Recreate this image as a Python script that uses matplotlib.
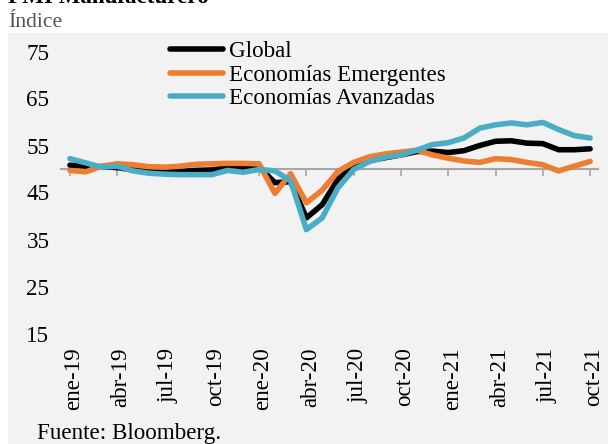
import matplotlib
matplotlib.use("Agg")
import matplotlib.pyplot as plt
from matplotlib.patches import Rectangle
from matplotlib.transforms import ScaledTranslation
import numpy as np

months = ["ene", "feb", "mar", "abr", "may", "jun", "jul", "ago", "sep", "oct", "nov", "dic"]
years = ["19", "20", "21"]
dates = [f"{m}-{y}" for y in years for m in months][:34]  # ene-19 .. oct-21

global_pmi = [50.8, 50.6, 50.5, 50.3, 49.8, 49.4, 49.3, 49.5, 49.7, 49.8, 50.3, 50.1,
              50.4, 47.1, 47.3, 39.6, 42.4, 47.8, 50.6, 51.8, 52.4, 53.0, 53.7, 53.8,
              53.5, 53.9, 55.0, 55.9, 56.0, 55.5, 55.4, 54.1, 54.1, 54.3]
emerging_pmi = [49.7, 49.4, 50.6, 51.1, 50.9, 50.5, 50.4, 50.6, 51.0, 51.1, 51.2, 51.2,
                51.1, 44.8, 49.0, 42.8, 45.5, 49.5, 51.4, 52.6, 53.2, 53.6, 54.0, 53.0,
                52.3, 51.7, 51.4, 52.2, 52.0, 51.4, 50.9, 49.6, 50.6, 51.6]
advanced_pmi = [52.2, 51.3, 50.4, 50.6, 49.6, 49.1, 48.9, 48.8, 48.8, 48.8, 49.7, 49.3,
                49.9, 49.6, 47.5, 37.1, 39.6, 46.0, 49.9, 51.6, 52.5, 53.0, 54.0, 55.2,
                55.6, 56.6, 58.7, 59.4, 59.8, 59.4, 59.9, 58.4, 57.1, 56.6]

labels = ["Global", "Economías Emergentes", "Economías Avanzadas"]
colors = ["#000000", "#ED7D31", "#4BACC6"]
yticks = [15, 25, 35, 45, 55, 65, 75]

plt.rcParams['font.family'] = ['Liberation Serif', 'DejaVu Serif']
FS = 16.6

W, H = 608, 444
fig = plt.figure(figsize=(W / 100, H / 100), dpi=100)
fig.patch.set_facecolor("white")

# gray background panel
fig.patches.append(Rectangle((8 / W, 0), 1 - 8 / W, 1 - 33 / H, transform=fig.transFigure,
                             facecolor="#F2F2F2", edgecolor="none", zorder=-10))

left, right = 60.5 / W, 598 / W
bottom, top = 1 - 333.5 / H, 1 - 51.5 / H
ax = fig.add_axes([left, bottom, right - left, top - bottom])
ax.set_facecolor("none")

x = np.arange(len(dates))
for data, lab, col in zip([global_pmi, emerging_pmi, advanced_pmi], labels, colors):
    ax.plot(x, data, color=col, lw=4.0, label=lab, solid_capstyle="round", solid_joinstyle="round")

ax.set_xlim(-0.6, 33.5)
ax.set_ylim(15, 75)
ax.set_yticks(yticks)
ax.set_yticklabels([str(v) for v in yticks], fontsize=FS)
ax.tick_params(axis="y", length=0, pad=8)
ax.set_xticks(x[::3])
ax.set_xticklabels(dates[::3], rotation=90, fontsize=FS)
ax.tick_params(axis="x", length=0, pad=10)
offset = ScaledTranslation(4 / 100, 0, fig.dpi_scale_trans)
for lbl in ax.get_xticklabels():
    lbl.set_transform(lbl.get_transform() + offset)
for s in ax.spines.values():
    s.set_visible(False)

# horizontal axis at 50 with tick marks
sec = ax.secondary_xaxis((50 - 15) / (75 - 15))
sec.set_xticks(x[::3])
sec.set_xticklabels([])
sec.tick_params(direction="in", length=5, width=1.2, color="#A6A6A6")
for s in sec.spines.values():
    s.set_color("#A6A6A6")
    s.set_linewidth(1.5)

leg = ax.legend(loc="upper left", bbox_to_anchor=(170 / W, 1 - 41 / H), bbox_transform=fig.transFigure,
                frameon=False, fontsize=FS, handlelength=2.3, handletextpad=0.25,
                labelspacing=0.1, borderpad=0, borderaxespad=0)

fig.text(8 / W, 1 - 3 / H, "PMI Manufacturero", fontsize=FS, fontweight="bold", va="baseline", ha="left")
fig.text(8 / W, 1 - 27 / H, "Índice", fontsize=FS - 1, color="#555555", va="baseline", ha="left")
fig.text(37 / W, 1 - 439 / H, "Fuente: Bloomberg.", fontsize=FS, va="baseline", ha="left")

fig.savefig("out.png", dpi=100)
